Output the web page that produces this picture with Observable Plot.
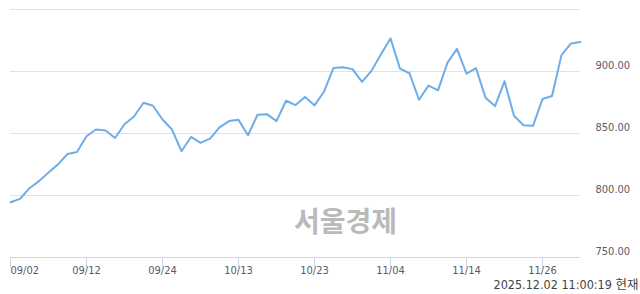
<!DOCTYPE html>
<html>
<head>
<meta charset="utf-8">
<script src="https://cdn.jsdelivr.net/npm/d3@7"></script>
<script src="https://cdn.jsdelivr.net/npm/@observablehq/plot@0.6"></script>
<style>
  html, body { margin: 0; padding: 0; background: #fff; }
  #chart svg { display: block; }
</style>
</head>
<body>
<div id="chart"></div>
<script>
const dates = [
  "09/02","09/03","09/04","09/05","09/08","09/09","09/10","09/11","09/12","09/15",
  "09/16","09/17","09/18","09/19","09/22","09/23","09/24","09/25","09/26","09/29",
  "09/30","10/01","10/02","10/10","10/13","10/14","10/15","10/16","10/17","10/20",
  "10/21","10/22","10/23","10/24","10/27","10/28","10/29","10/30","10/31","11/03",
  "11/04","11/05","11/06","11/07","11/10","11/11","11/12","11/13","11/14","11/17",
  "11/18","11/19","11/20","11/21","11/24","11/25","11/26","11/27","11/28","12/01",
  "12/02"
];
const values = [
  794.6, 797.3, 805.9, 811.6, 818.6, 825.1, 833.5, 835.1, 847.8, 853.2,
  852.4, 846.4, 857.5, 863.7, 874.8, 872.4, 861.3, 853.2, 835.7, 847.2,
  842.4, 845.9, 854.9, 860.0, 861.0, 848.6, 865.1, 865.6, 860.0, 876.4,
  872.9, 879.4, 872.7, 883.7, 902.9, 903.5, 901.9, 891.6, 900.5, 914.0,
  926.7, 902.3, 898.6, 877.2, 888.6, 884.8, 907.2, 918.3, 898.3, 902.7,
  878.9, 872.1, 892.1, 864.3, 856.7, 856.2, 877.8, 880.2, 913.2, 922.6,
  923.7
];
const xTickLabels = ["09/02","09/12","09/24","10/13","10/23","11/04","11/14","11/26"];
const yTickLabels = [750, 800, 850, 900];
const gridValues = [800, 850, 900, 950];
const watermark = "서울경제";
const caption = "2025.12.02 11:00:19 현재";

const data = dates.map((d, i) => ({idx: i, date: d, value: values[i]}));
const xTicks = xTickLabels.map(l => ({idx: dates.indexOf(l), label: l}));
const font = "'DejaVu Sans Condensed', 'Noto Sans CJK KR', sans-serif";

const chart = Plot.plot({
  width: 640,
  height: 294,
  marginLeft: 10,
  marginRight: 60,
  marginTop: 9,
  marginBottom: 37,
  style: {fontFamily: font, overflow: "visible", background: "#fff"},
  x: {domain: [0, dates.length - 1], axis: null, label: null},
  y: {domain: [750, 950], axis: null, label: null},
  marks: [
    Plot.ruleY(gridValues, {stroke: "#e2e2e2", strokeWidth: 1}),
    Plot.ruleY([750], {stroke: "#c9d4e8", strokeWidth: 1}),
    Plot.axisX({ticks: xTicks.map(t => t.idx), tickSize: 10, tickFormat: () => "", stroke: "#c9d4e8", anchor: "bottom", label: null}),
    Plot.text(xTicks.slice(0, 1), {x: "idx", text: "label", frameAnchor: "bottom", dy: 16, textAnchor: "start", fill: "#5a5a6a", fontSize: 11}),
    Plot.text(xTicks.slice(1), {x: "idx", text: "label", frameAnchor: "bottom", dy: 16, textAnchor: "middle", fill: "#5a5a6a", fontSize: 11}),
    Plot.axisY({ticks: yTickLabels, anchor: "right", tickSize: 0, tickPadding: 15, dy: -6.5, textAnchor: "start", tickFormat: d => d.toFixed(2), fill: "#5a5a6a", fontSize: 11, label: null}),
    Plot.text([watermark], {frameAnchor: "bottom", dx: 50, dy: -26, fontSize: 28, fontWeight: "bold", fill: "#bababa", fontFamily: "'Noto Sans CJK KR', sans-serif"}),
    Plot.line(data, {x: "idx", y: "value", stroke: "#6dade8", strokeWidth: 2, strokeLinejoin: "round"}),
    Plot.text([caption], {frameAnchor: "bottom-right", dx: 58, dy: 31, textAnchor: "end", fontSize: 12.5, fill: "#444", fontFamily: "'DejaVu Sans Condensed', 'Noto Sans CJK KR', sans-serif"})
  ]
});
document.getElementById("chart").appendChild(chart);
</script>
</body>
</html>
